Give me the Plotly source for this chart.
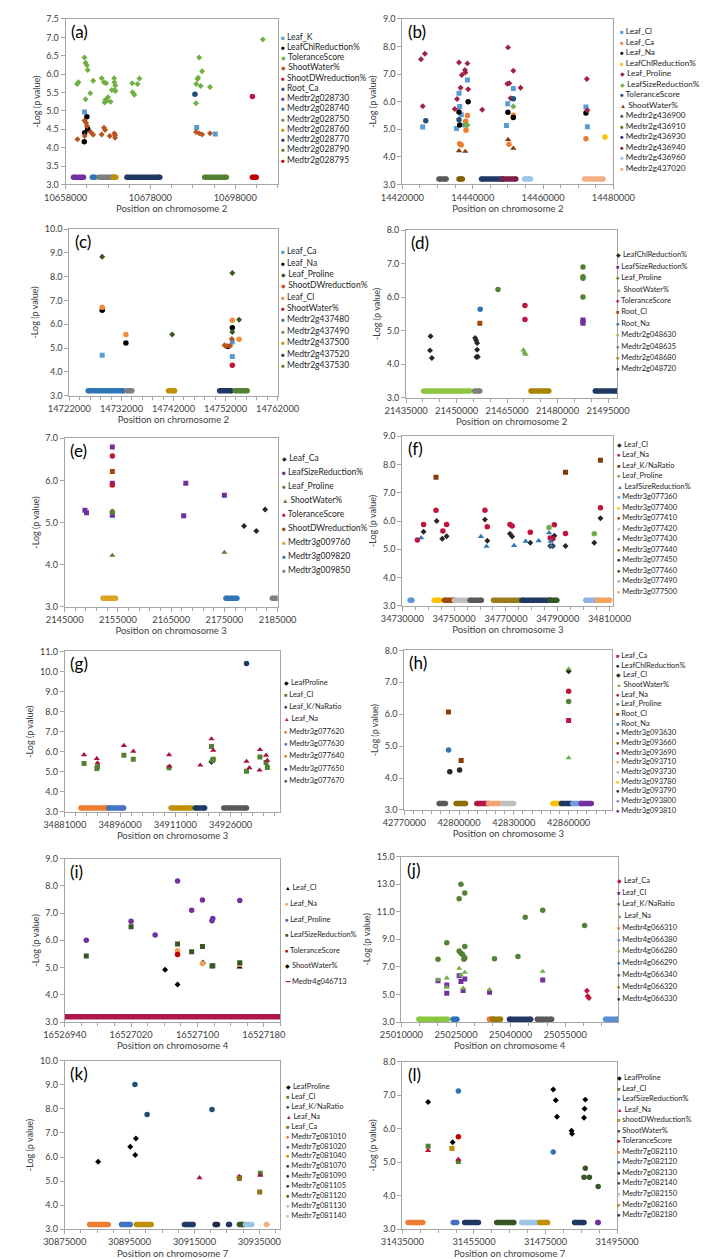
import plotly.graph_objects as go

W, H = 709, 1259
FONT = "Lato, 'Liberation Sans', sans-serif"

# ---------------- Panel (a) chromosome 2 ----------------
a_Leaf_K = [(10662450, 4.97), (10688900, 4.55), (10693300, 4.37)]
a_LeafChlReduction = [(10662400, 4.16), (10662500, 4.41), (10663000, 4.84), (10663200, 4.51)]
a_ToleranceScore = [(10660700, 5.73), (10661000, 5.78), (10662450, 6.45), (10662700, 6.31), (10663000, 6.24),
                    (10663200, 6.11), (10662700, 5.32), (10663800, 5.48), (10664500, 5.82), (10666500, 5.89),
                    (10667050, 5.78), (10667550, 5.75), (10667200, 5.23), (10667350, 5.30), (10667700, 5.28),
                    (10668000, 5.37), (10668600, 5.25), (10668900, 5.57), (10669450, 5.89), (10669700, 5.69),
                    (10669600, 5.57), (10669750, 5.54), (10669500, 5.78), (10673700, 5.75), (10673800, 5.51),
                    (10674200, 5.44), (10674950, 5.73), (10675400, 5.88), (10688750, 5.21), (10688800, 5.73),
                    (10689100, 5.87), (10689250, 5.90), (10689500, 6.45), (10689850, 5.68), (10690200, 6.08),
                    (10692050, 5.65), (10704500, 6.94)]
a_ShootWater = [(10660800, 4.23), (10662450, 4.74), (10662800, 4.68), (10663050, 4.59), (10662500, 4.32),
                (10663900, 4.43), (10664500, 4.35), (10666500, 4.36), (10667050, 4.54), (10667300, 4.48),
                (10668400, 4.32), (10669500, 4.39), (10669650, 4.34), (10669650, 4.27), (10688750, 4.43),
                (10689500, 4.39), (10690200, 4.36), (10692050, 4.39)]
a_ShootDWreduction = [(10702050, 5.39)]
a_Root_Ca = [(10688500, 5.45)]
a_genes = [("Medtr2g028730", 10659850, 10662220), ("Medtr2g028740", 10664300, 10664900),
           ("Medtr2g028750", 10665900, 10669300), ("Medtr2g028760", 10669300, 10669850),
           ("Medtr2g028770", 10672450, 10680200), ("Medtr2g028790", 10690800, 10695900),
           ("Medtr2g028795", 10702050, 10702950)]

# ---------------- Panel (b) chromosome 2 ----------------
b_Leaf_Cl = [(14425780, 5.08), (14435380, 5.03), (14436100, 6.31), (14436300, 5.83), (14436750, 5.53),
             (14437800, 5.16), (14438500, 6.79), (14449600, 5.14), (14449950, 5.93), (14451550, 6.48),
             (14472200, 5.81), (14472600, 5.09)]
b_Leaf_Ca = [(14436300, 4.48), (14436750, 4.43), (14438000, 5.29), (14438100, 4.97), (14438500, 5.50),
             (14450300, 4.46), (14451550, 5.51), (14472200, 4.66)]
b_Leaf_Na = [(14436100, 5.63), (14436300, 5.16), (14438700, 6.00), (14450000, 5.62), (14451550, 5.43),
             (14472200, 5.59)]
b_LeafChlReduction = [(14477600, 4.72)]
b_Leaf_Proline = [(14425300, 7.54), (14426400, 7.74), (14425800, 5.84), (14434900, 5.74), (14435550, 6.10),
                  (14436100, 7.42), (14436550, 6.51), (14436900, 6.97), (14437800, 7.15), (14437900, 7.06),
                  (14438500, 7.39), (14438700, 6.45), (14442700, 5.71), (14450050, 7.97), (14449850, 6.65),
                  (14450400, 6.67), (14450750, 6.13), (14451550, 7.12), (14453600, 6.51), (14472450, 6.82),
                  (14472600, 5.69)]
b_LeafSizeReduction = [(14451550, 5.83), (14438000, 5.16), (14438500, 5.16)]
b_ToleranceScore = [(14426650, 5.31), (14436100, 5.35), (14451550, 6.11)]
b_ShootWater = [(14436100, 4.22), (14437900, 4.20), (14450050, 4.63), (14451550, 4.31)]
b_genes = [("Medtr2g436900", 14430400, 14432450), ("Medtr2g436910", 14436100, 14437050),
           ("Medtr2g436930", 14442500, 14448450), ("Medtr2g436940", 14448450, 14452250),
           ("Medtr2g436960", 14454750, 14456450), ("Medtr2g437020", 14471800, 14477050)]

# ---------------- Panel (c) chromosome 2 ----------------
c_Leaf_Ca = [(14728300, 4.70), (14753300, 5.25), (14753300, 4.64)]
c_Leaf_Na = [(14728300, 6.59), (14732850, 5.21), (14753300, 5.85), (14752400, 5.06)]
c_Leaf_Proline = [(14728300, 8.84), (14741750, 5.57), (14753300, 8.15), (14753300, 5.67), (14754600, 6.19)]
c_ShootDWreduction = [(14751800, 5.12), (14752300, 5.09), (14752900, 5.10), (14753200, 5.38)]
c_Leaf_Cl = [(14728300, 6.72), (14732850, 5.57), (14753300, 6.17), (14754600, 5.37)]
c_ShootWater = [(14753300, 4.28)]
c_genes = [("Medtr2g437480", 14725600, 14732350), ("Medtr2g437490", 14733100, 14734000),
           ("Medtr2g437500", 14741050, 14742200), ("Medtr2g437520", 14750850, 14753150),
           ("Medtr2g437530", 14753850, 14756150)]

# ---------------- Panel (d) chromosome 2 ----------------
d_LeafChlReduction = [(21442270, 4.83), (21442100, 4.41), (21442650, 4.18), (21455500, 4.78), (21455800, 4.71),
                      (21456100, 4.63), (21456100, 4.43), (21455900, 4.21), (21456300, 4.22)]
d_LeafSizeReduction = [(21487550, 5.22), (21487550, 5.28), (21487550, 5.32)]
d_Leaf_Proline = [(21462300, 6.23), (21487550, 6.90), (21487550, 6.61), (21487550, 6.56), (21487550, 6.00)]
d_ShootWater = [(21469850, 4.42), (21470200, 4.34), (21470500, 4.29)]
d_ToleranceScore = [(21470300, 5.75), (21470300, 5.33)]
d_Root_Cl = [(21456900, 5.22)]
d_Root_Na = [(21457000, 5.64)]
d_genes = [("Medtr2g048630", 21440200, 21453900), ("Medtr2g048635", 21455300, 21456900),
           ("Medtr2g048680", 21472100, 21477400), ("Medtr2g048720", 21491200, 21497700)]

# ---------------- Panel (e) chromosome 3 ----------------
e_Leaf_Ca = [(2178700, 4.92), (2181000, 4.80), (2182650, 5.31)]
e_LeafSizeReduction = [(2148800, 5.29), (2149100, 5.23), (2153950, 6.79), (2153950, 5.93), (2153950, 5.17),
                       (2167750, 5.93), (2167350, 5.16), (2175000, 5.65)]
e_Leaf_Proline = [(2153950, 5.25)]
e_ShootWater = [(2153950, 5.27), (2153950, 4.22), (2175000, 4.29)]
e_ToleranceScore = [(2153950, 6.58), (2153950, 5.89)]
e_ShootDWreduction = [(2153950, 6.21)]
e_genes = [("Medtr3g009760", 2152200, 2154550), ("Medtr3g009820", 2175300, 2177350),
           ("Medtr3g009850", 2184000, 2185000)]

# ---------------- Panel (f) chromosome 3 ----------------
f_Leaf_Cl = [(34738200, 5.62), (34743250, 6.00), (34745400, 5.37), (34747100, 5.46), (34761900, 6.05),
             (34762800, 5.30), (34771550, 5.55), (34772400, 5.45), (34779400, 5.23), (34787100, 5.12),
             (34788100, 5.12), (34788700, 5.48), (34793000, 5.12), (34804100, 5.23), (34806500, 6.10)]
f_Leaf_Na = [(34735800, 5.33), (34738200, 5.88), (34743000, 6.38), (34745650, 5.65), (34747100, 5.88),
             (34761900, 6.38), (34762800, 5.80), (34771550, 5.88), (34772400, 5.82), (34779400, 5.60),
             (34787100, 5.40), (34788100, 5.37), (34788700, 5.87), (34793000, 5.56), (34806500, 6.47)]
f_Leaf_KNaRatio = [(34743000, 7.55), (34793000, 7.73), (34806500, 8.15)]
f_Leaf_Proline = [(34786650, 5.77), (34804100, 5.55)]
f_LeafSizeReduction = [(34737250, 5.40), (34760350, 5.45), (34762500, 5.10), (34773150, 5.13), (34777600, 5.28),
                       (34782650, 5.30), (34786650, 5.58), (34787250, 5.28), (34787500, 5.12)]
f_genes = [("Medtr3g077360", 34733000, 34733700), ("Medtr3g077400", 34742300, 34744450),
           ("Medtr3g077410", 34746250, 34749900), ("Medtr3g077420", 34750100, 34755300),
           ("Medtr3g077430", 34756150, 34760500), ("Medtr3g077440", 34765200, 34775200),
           ("Medtr3g077450", 34776150, 34787000), ("Medtr3g077460", 34787000, 34789650),
           ("Medtr3g077490", 34800850, 34804950), ("Medtr3g077500", 34805300, 34810100)]

# ---------------- Panel (g) chromosome 3 ----------------
g_LeafProline = [(34920800, 5.50)]
g_Leaf_Cl = [(34886250, 5.41), (34889700, 5.16), (34889900, 5.25), (34897050, 5.82), (34899600, 5.62),
             (34909300, 5.20), (34920800, 6.26), (34921050, 5.57), (34921300, 5.62), (34930300, 5.03),
             (34933950, 5.74), (34935600, 5.46), (34935950, 5.21)]
g_Leaf_KNaRatio = [(34930300, 10.40)]
g_Leaf_Na = [(34886250, 5.85), (34889700, 5.66), (34889900, 5.44), (34897050, 6.31), (34899600, 6.02),
             (34909300, 5.85), (34909400, 5.28), (34917750, 5.33), (34920800, 6.64), (34921300, 6.07),
             (34930300, 5.52), (34931100, 5.20), (34933850, 5.08), (34933950, 6.10), (34935600, 5.82),
             (34935950, 5.57)]
g_genes = [("Medtr3g077620", 34885400, 34892650), ("Medtr3g077630", 34892950, 34897000),
           ("Medtr3g077640", 34909850, 34915400), ("Medtr3g077650", 34916400, 34918950),
           ("Medtr3g077670", 34924150, 34930300)]

# ---------------- Panel (h) chromosome 3 ----------------
h_Leaf_Ca = [(42860000, 5.80)]
h_LeafChlReduction = [(42794950, 4.20), (42800300, 4.25)]
h_Leaf_Cl = [(42860000, 7.35)]
h_ShootWater = [(42860000, 7.42), (42860000, 4.63)]
h_Leaf_Na = [(42860000, 6.72)]
h_Leaf_Proline = [(42860000, 6.40)]
h_Root_Cl = [(42794250, 6.07), (42801150, 4.55)]
h_Root_Na = [(42794250, 4.88)]
h_genes = [("Medtr3g093630", 42789100, 42792550), ("Medtr3g093660", 42798400, 42803550),
           ("Medtr3g093690", 42809750, 42816100), ("Medtr3g093710", 42816100, 42822150),
           ("Medtr3g093730", 42823850, 42829900), ("Medtr3g093780", 42851400, 42856050),
           ("Medtr3g093790", 42856050, 42861400), ("Medtr3g093800", 42862250, 42866900),
           ("Medtr3g093810", 42866900, 42872400)]

# ---------------- Panel (i) chromosome 4 ----------------
i_Leaf_Cl = [(16527106.6, 5.20), (16527150.8, 5.02)]
i_Leaf_Na = [(16527076, 5.62), (16527106, 5.15), (16527151, 5.12)]
i_Leaf_Proline = [(16526966, 6.00), (16527020, 6.70), (16527049, 6.20), (16527076, 8.18), (16527093, 7.10),
                  (16527106, 7.48), (16527117.5, 6.72), (16527118.5, 6.80), (16527151, 7.46)]
i_LeafSizeReduction = [(16526966, 5.43), (16527020, 6.50), (16527076, 5.87), (16527093, 5.58), (16527106, 5.77),
                       (16527117.5, 5.06), (16527118.5, 5.07), (16527151, 5.18)]
i_ToleranceScore = [(16527076, 5.48)]
i_ShootWater = [(16527061, 4.92), (16527076, 4.38)]
i_genes = [("Medtr4g046713", 16526940, 16527200)]

# ---------------- Panel (j) chromosome 4 ----------------
j_Leaf_Ca = [(25060950, 5.28), (25061150, 4.87), (25061500, 4.75)]
j_Leaf_Cl = [(25020050, 6.00), (25022450, 5.69), (25022450, 5.09), (25025850, 6.36), (25026350, 5.95),
             (25026950, 5.30), (25027400, 6.12), (25034200, 5.16), (25048800, 6.05)]
j_Leaf_KNaRatio = [(25020050, 7.56), (25022450, 8.76), (25025850, 11.95), (25026350, 13.00), (25027400, 12.36),
                   (25025850, 8.15), (25026350, 8.00), (25026800, 7.90), (25027150, 7.55), (25027400, 7.67),
                   (25027400, 8.49), (25035550, 7.60), (25044000, 10.60), (25042000, 7.75), (25048800, 11.10),
                   (25060300, 10.00)]
j_Leaf_Na = [(25020050, 6.07), (25022450, 6.19), (25022450, 5.52), (25025850, 6.89), (25026350, 6.41),
             (25026950, 5.45), (25027400, 6.60), (25034200, 5.35), (25048800, 6.67)]
j_genes = [("Medtr4g066310", 25034150, 25035050), ("Medtr4g066380", 25066050, 25069500),
           ("Medtr4g066280", 25014800, 25022650), ("Medtr4g066290", 25024150, 25025250),
           ("Medtr4g066340", 25047300, 25051250), ("Medtr4g066320", 25035050, 25037200),
           ("Medtr4g066330", 25039650, 25045500)]

# ---------------- Panel (k) chromosome 7 ----------------
k_LeafProline = [(30885300, 5.81), (30895200, 6.43), (30896750, 6.09), (30896950, 6.77)]
k_Leaf_Cl = [(30935300, 5.33), (30928850, 5.14)]
k_Leaf_KNaRatio = [(30896650, 9.01), (30900400, 7.77), (30920400, 7.98)]
k_Leaf_Na = [(30916550, 5.14), (30928850, 5.19), (30935300, 5.24)]
k_Leaf_Ca = [(30928850, 5.11), (30935100, 4.55)]
k_genes = [("Medtr7g081010", 30882700, 30888450), ("Medtr7g081020", 30892500, 30895200),
           ("Medtr7g081040", 30897100, 30901650), ("Medtr7g081070", 30911900, 30914600),
           ("Medtr7g081090", 30921350, 30922100), ("Medtr7g081105", 30925500, 30925800),
           ("Medtr7g081120", 30928850, 30930300), ("Medtr7g081130", 30930750, 30932700),
           ("Medtr7g081140", 30937200, 30937300)]

# ---------------- Panel (l) chromosome 7 ----------------
l_LeafProline = [(31442200, 6.80), (31449050, 5.60), (31477150, 7.17), (31477850, 6.85), (31478200, 6.36),
                 (31482250, 5.94), (31482400, 5.85), (31485900, 6.60), (31486100, 6.87), (31485750, 6.33)]
l_Leaf_Cl = [(31442200, 5.48), (31450650, 5.02)]
l_LeafSizeReduction = [(31450650, 7.13), (31477150, 5.31)]
l_Leaf_Na = [(31442200, 5.35), (31450650, 5.09)]
l_shootDWreduction = [(31448850, 5.41)]
l_ShootWater = [(31486100, 4.82), (31485750, 4.55), (31487250, 4.55), (31489700, 4.28)]
l_ToleranceScore = [(31450650, 5.76)]
l_genes = [("Medtr7g082110", 31436600, 31440700), ("Medtr7g082120", 31449200, 31450200),
           ("Medtr7g082130", 31452400, 31456250), ("Medtr7g082140", 31461350, 31466150),
           ("Medtr7g082150", 31468350, 31472750), ("Medtr7g082160", 31473350, 31475550),
           ("Medtr7g082180", 31483100, 31485750), ("", 31489600, 31489700)]

# ---------------- styling / layout per panel ----------------
PANELS = [
    dict(key="a", chrom="2", xr=[10658000, 10708000], x0=10658000, xd=20000, xm=5000, yr=[3, 7.5], yd=0.5,
         box=(38, 264, 5, 172), leg=(266, 22.7, 10.36, 8.5),
         series=[("Leaf_K", a_Leaf_K, "square", "#5B9BD5"),
                 ("LeafChlReduction%", a_LeafChlReduction, "circle", "#000000"),
                 ("ToleranceScore", a_ToleranceScore, "diamond", "#70B040"),
                 ("ShootWater%", a_ShootWater, "diamond", "#B9541C"),
                 ("ShootDWreduction%", a_ShootDWreduction, "circle", "#C0143C"),
                 ("Root_Ca", a_Root_Ca, "circle", "#1F4E79")],
         genes=a_genes, gcol=["#7030A0", "#2E75B6", "#7F7F7F", "#BF9000", "#203864", "#548235", "#C00000"]),
    dict(key="b", chrom="2", xr=[14420000, 14480000], x0=14420000, xd=20000, xm=5000, yr=[3, 9], yd=1,
         box=(397, 622, 5, 172), leg=(627, 17.3, 10.6, 8.2),
         series=[("Leaf_Cl", b_Leaf_Cl, "square", "#5B9BD5"),
                 ("Leaf_Ca", b_Leaf_Ca, "circle", "#ED7D31"),
                 ("Leaf_Na", b_Leaf_Na, "circle", "#000000"),
                 ("LeafChlReduction%", b_LeafChlReduction, "circle", "#FFC000"),
                 ("Leaf_Proline", b_Leaf_Proline, "diamond", "#A0204A"),
                 ("LeafSizeReduction%", b_LeafSizeReduction, "diamond", "#70AD47"),
                 ("ToleranceScore", b_ToleranceScore, "circle", "#1F4E79"),
                 ("ShootWater%", b_ShootWater, "triangle-up", "#843C0C")],
         genes=b_genes, gcol=["#595959", "#806000", "#203864", "#7B1F4A", "#9DC3E6", "#F4B183"]),
    dict(key="c", chrom="2", xr=[14722000, 14762000], x0=14722000, xd=10000, xm=2000, yr=[3, 10], yd=1,
         box=(42, 264, 217, 385), leg=(266, 239.3, 11.47, 8.5),
         series=[("Leaf_Ca", c_Leaf_Ca, "square", "#5B9BD5"),
                 ("Leaf_Na", c_Leaf_Na, "circle", "#000000"),
                 ("Leaf_Proline", c_Leaf_Proline, "diamond", "#375623"),
                 ("ShootDWreduction%", c_ShootDWreduction, "diamond", "#B9541C"),
                 ("Leaf_Cl", c_Leaf_Cl, "circle", "#F08C3C"),
                 ("ShootWater%", c_ShootWater, "circle", "#C0143C")],
         genes=c_genes, gcol=["#2E75B6", "#7F7F7F", "#BF9000", "#203864", "#548235"]),
    dict(key="d", chrom="2", xr=[21435000, 21497700], x0=21435000, xd=15000, xm=5000, yr=[3, 8], yd=1,
         box=(401, 626, 218, 387), leg=(623, 243, 11.5, 7.5),
         series=[("LeafChlReduction%", d_LeafChlReduction, "diamond", "#262626"),
                 ("LeafSizeReduction%", d_LeafSizeReduction, "square", "#7030A0"),
                 ("Leaf_Proline", d_Leaf_Proline, "circle", "#548235"),
                 ("ShootWater%", d_ShootWater, "triangle-up", "#70AD47"),
                 ("ToleranceScore", d_ToleranceScore, "circle", "#C0143C"),
                 ("Root_Cl", d_Root_Cl, "square", "#9E480E"),
                 ("Root_Na", d_Root_Na, "circle", "#2E75B6")],
         genes=d_genes, gcol=["#8CC63F", "#7F7F7F", "#A98400", "#203864"]),
    dict(key="e", chrom="3", xr=[2145000, 2185000], x0=2145000, xd=10000, xm=2000, yr=[3, 7], yd=1,
         box=(37, 264, 428, 598), leg=(267, 448.3, 14.05, 8.5),
         series=[("Leaf_Ca", e_Leaf_Ca, "diamond", "#262626"),
                 ("LeafSizeReduction%", e_LeafSizeReduction, "square", "#7030A0"),
                 ("Leaf_Proline", e_Leaf_Proline, "circle", "#548235"),
                 ("ShootWater%", e_ShootWater, "triangle-up", "#548235"),
                 ("ToleranceScore", e_ToleranceScore, "circle", "#C0143C"),
                 ("ShootDWreduction%", e_ShootDWreduction, "square", "#9E480E")],
         genes=e_genes, gcol=["#D9A520", "#2E75B6", "#7F7F7F"]),
    dict(key="f", chrom="3", xr=[34730000, 34811500], x0=34730000, xd=20000, xm=5000, yr=[3, 9], yd=1,
         box=(397, 622, 426, 597), leg=(624, 434, 10.6, 7.5),
         series=[("Leaf_Cl", f_Leaf_Cl, "diamond", "#262626"),
                 ("Leaf_Na", f_Leaf_Na, "circle", "#C0143C"),
                 ("Leaf_K/NaRatio", f_Leaf_KNaRatio, "square", "#843C0C"),
                 ("Leaf_Proline", f_Leaf_Proline, "circle", "#70AD47"),
                 ("LeafSizeReduction%", f_LeafSizeReduction, "triangle-up", "#2E75B6")],
         genes=f_genes, gcol=["#5B9BD5", "#FFC000", "#9E480E", "#BFBFBF", "#595959", "#9C7A1A",
                              "#203864", "#375623", "#8FB4E3", "#F4A460"]),
    dict(key="g", chrom="3", xr=[34881000, 34939500], x0=34881000, xd=15000, xm=3000, yr=[3, 11], yd=1,
         box=(37, 267, 643, 805), leg=(269, 674, 12.4, 7.5),
         series=[("LeafProline", g_LeafProline, "diamond", "#000000"),
                 ("Leaf_Cl", g_Leaf_Cl, "square", "#548235"),
                 ("Leaf_K/NaRatio", g_Leaf_KNaRatio, "circle", "#1F3864"),
                 ("Leaf_Na", g_Leaf_Na, "triangle-up", "#A5153C")],
         genes=g_genes, gcol=["#ED7D31", "#4472C4", "#BF9000", "#203864", "#595959"]),
    dict(key="h", chrom="3", xr=[42770000, 42884000], x0=42770000, xd=30000, xm=5000, yr=[3, 8], yd=1,
         box=(399, 621, 642, 803), leg=(623, 647.3, 9.75, 7.5),
         series=[("Leaf_Ca", h_Leaf_Ca, "square", "#C0143C"),
                 ("LeafChlReduction%", h_LeafChlReduction, "circle", "#262626"),
                 ("Leaf_Cl", h_Leaf_Cl, "diamond", "#262626"),
                 ("ShootWater%", h_ShootWater, "triangle-up", "#70AD47"),
                 ("Leaf_Na", h_Leaf_Na, "circle", "#C0143C"),
                 ("Leaf_Proline", h_Leaf_Proline, "circle", "#548235"),
                 ("Root_Cl", h_Root_Cl, "square", "#843C0C"),
                 ("Root_Na", h_Root_Na, "circle", "#2E75B6")],
         genes=h_genes, gcol=["#595959", "#8C6D00", "#B0184A", "#F4A470", "#BFBFBF", "#FFC000",
                              "#203864", "#6F9AD8", "#7030A0"]),
    dict(key="i", chrom="4", xr=[16526940, 16527200], x0=16526940, xd=80, xm=20, yr=[3, 9], yd=1,
         box=(37, 267, 852, 1017), leg=(270, 881.7, 15.7, 7.5),
         series=[("Leaf_Cl", i_Leaf_Cl, "triangle-up", "#000000"),
                 ("Leaf_Na", i_Leaf_Na, "circle", "#F0A050"),
                 ("Leaf_Proline", i_Leaf_Proline, "circle", "#7030A0"),
                 ("LeafSizeReduction%", i_LeafSizeReduction, "square", "#375623"),
                 ("ToleranceScore", i_ToleranceScore, "circle", "#C00000"),
                 ("ShootWater%", i_ShootWater, "diamond", "#000000")],
         genes=i_genes, gcol=["#B0184A"], gsym="bar"),
    dict(key="j", chrom="4", xr=[25010000, 25069500], x0=25010000, xd=15000, xm=5000, yr=[3, 15], yd=2,
         box=(396, 627, 850, 1017), leg=(624, 874, 11.87, 7.5),
         series=[("Leaf_Ca", j_Leaf_Ca, "diamond", "#C0143C"),
                 ("Leaf_Cl", j_Leaf_Cl, "square", "#7030A0"),
                 ("Leaf_K/NaRatio", j_Leaf_KNaRatio, "circle", "#548235"),
                 ("Leaf_Na", j_Leaf_Na, "triangle-up", "#70AD47")],
         genes=j_genes, gcol=["#ED7D31", "#5B8FD6", "#8CC63F", "#2E75B6", "#595959", "#9C7A00", "#203864"]),
    dict(key="k", chrom="7", xr=[30875000, 30941500], x0=30875000, xd=20000, xm=5000, yr=[3, 10], yd=1,
         box=(37, 267, 1056, 1226), leg=(271, 1082.3, 9.95, 7.5),
         series=[("LeafProline", k_LeafProline, "diamond", "#000000"),
                 ("Leaf_Cl", k_Leaf_Cl, "square", "#548235"),
                 ("Leaf_K/NaRatio", k_Leaf_KNaRatio, "circle", "#1F4E79"),
                 ("Leaf_Na", k_Leaf_Na, "triangle-up", "#A5153C"),
                 ("Leaf_Ca", k_Leaf_Ca, "square", "#8C6D1F")],
         genes=k_genes, gcol=["#ED7D31", "#4472C4", "#BF9000", "#203864", "#1F2A44", "#1F3864",
                              "#375623", "#9DC3E6", "#F4B183"]),
    dict(key="l", chrom="7", xr=[31435000, 31495000], x0=31435000, xd=20000, xm=5000, yr=[3, 8], yd=1,
         box=(397, 626, 1057, 1226), leg=(624, 1073.3, 10.6, 7.5),
         series=[("LeafProline", l_LeafProline, "diamond", "#000000"),
                 ("Leaf_Cl", l_Leaf_Cl, "square", "#548235"),
                 ("LeafSizeReduction%", l_LeafSizeReduction, "circle", "#2E75B6"),
                 ("Leaf_Na", l_Leaf_Na, "triangle-up", "#C0143C"),
                 ("shootDWreduction%", l_shootDWreduction, "square", "#BF9000"),
                 ("ShootWater%", l_ShootWater, "circle", "#375623"),
                 ("ToleranceScore", l_ToleranceScore, "circle", "#C00000")],
         genes=l_genes, gcol=["#ED7D31", "#4472C4", "#1F3864", "#375623", "#9DC3E6", "#BF9000",
                              "#203864", "#7030A0"]),
]

SYM_CHAR = {"square": "■", "circle": "●", "diamond": "◆", "triangle-up": "▲", "bar": "━"}
MSIZE = {"square": 5, "circle": 5.5, "diamond": 4.6, "triangle-up": 5.5}
GENE_Y = 3.2

fig = go.Figure()
annotations = []
layout = dict(width=W, height=H, margin=dict(l=0, r=0, t=0, b=0), showlegend=False,
              paper_bgcolor="white", plot_bgcolor="white", font=dict(family=FONT, color="#404040"))

for n, p in enumerate(PANELS, start=1):
    sfx = "" if n == 1 else str(n)
    xa, ya = "x" + sfx, "y" + sfx
    l, r, t, b = p["box"]
    for name, pts, sym, col in p["series"]:
        fig.add_trace(go.Scatter(x=[q[0] for q in pts], y=[q[1] for q in pts], mode="markers", name=name,
                                 marker=dict(symbol=sym, size=MSIZE[sym], color=col, line=dict(width=0)),
                                 xaxis=xa, yaxis=ya))
    for (gname, g0, g1), col in zip(p["genes"], p["gcol"]):
        fig.add_trace(go.Scatter(x=[g0, g1], y=[GENE_Y, GENE_Y], mode="lines+markers", name=gname,
                                 line=dict(color=col, width=5.5), marker=dict(size=5.5, color=col),
                                 xaxis=xa, yaxis=ya))
    axis_common = dict(showline=True, mirror=True, linecolor="#A6A6A6", linewidth=1, showgrid=False,
                       zeroline=False, ticks="outside", ticklen=4, tickcolor="#A6A6A6")
    layout["xaxis" + sfx] = dict(axis_common, domain=[l / W, r / W], anchor=ya, range=p["xr"],
                                 tickmode="linear", tick0=p["x0"], dtick=p["xd"], tickformat="d",
                                 tickfont=dict(size=9.3, family=FONT, color="#404040"),
                                 minor=dict(ticks="outside", ticklen=3, tickcolor="#A6A6A6",
                                            tick0=p["x0"], dtick=p["xm"]),
                                 title=dict(text="Position on chromosome " + p["chrom"], standoff=3,
                                            font=dict(size=9.5, family=FONT, color="#404040")))
    layout["yaxis" + sfx] = dict(axis_common, domain=[1 - b / H, 1 - t / H], anchor=xa, range=p["yr"],
                                 tickmode="linear", tick0=3, dtick=p["yd"], tickformat=".1f",
                                 tickfont=dict(size=9, family=FONT, color="#404040"),
                                 title=dict(text="-Log (p value)", standoff=4,
                                            font=dict(size=9, family=FONT, color="#404040")))
    annotations.append(dict(text="(" + p["key"] + ")", xref=xa + " domain", yref=ya + " domain",
                            x=0.015, y=1.0, xanchor="left", yanchor="top", showarrow=False,
                            font=dict(size=17, family=FONT, color="#000000")))
    # legend entries
    lx, ly0, dy, fs = p["leg"]
    entries = [(nm, sym, col) for nm, _, sym, col in p["series"]]
    gsym = p.get("gsym", "circle")
    entries += [(g[0], gsym, c) for g, c in zip(p["genes"], p["gcol"]) if g[0]]
    for k, (nm, sym, col) in enumerate(entries):
        ch = SYM_CHAR[sym]
        ssz = fs * (0.75 if sym != "bar" else 0.9)
        annotations.append(dict(
            text="<span style='color:%s;font-size:%.1fpx'>%s</span> %s" % (col, ssz, ch, nm),
            xref="paper", yref="paper", x=lx / W, y=1 - (ly0 + k * dy) / H,
            xanchor="left", yanchor="middle", showarrow=False, align="left",
            font=dict(size=fs, family=FONT, color="#262626")))

layout["annotations"] = annotations
fig.update_layout(**layout)
fig.write_html("out.html")
